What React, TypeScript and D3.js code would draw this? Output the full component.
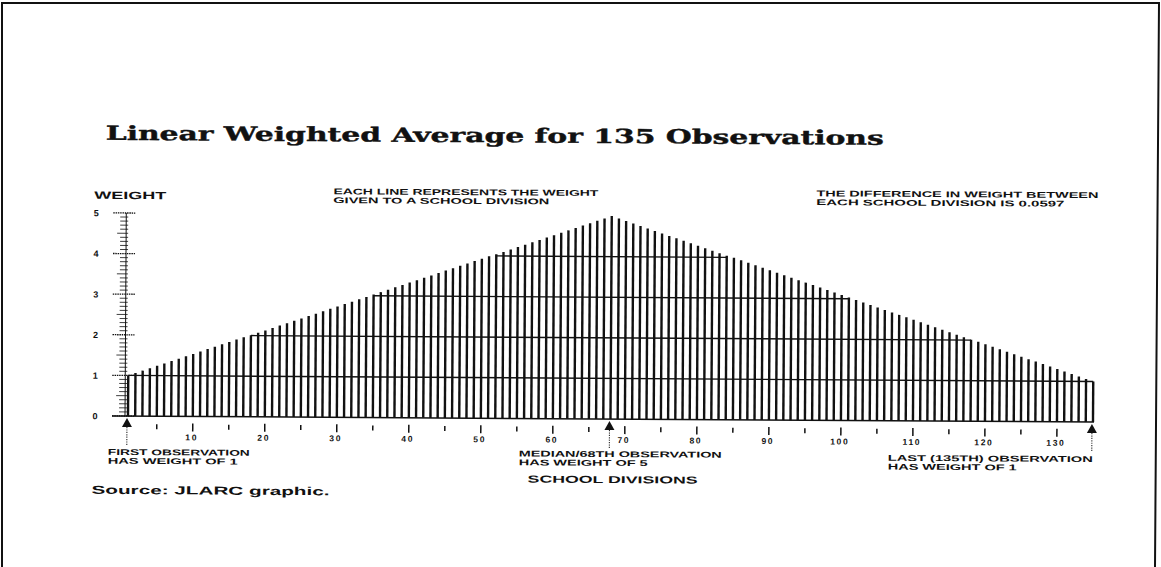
import React from "react";
import * as d3 from "d3";

const TITLE = "Linear Weighted Average for 135 Observations";

// weight given to each of the 135 school divisions (observation 1 .. 135)
const WEIGHTS = [
  1.00, 1.06, 1.12, 1.18, 1.24, 1.30, 1.36, 1.42, 1.48, 1.54,
  1.60, 1.66, 1.72, 1.78, 1.84, 1.90, 1.96, 2.01, 2.07, 2.13,
  2.19, 2.25, 2.31, 2.37, 2.43, 2.49, 2.55, 2.61, 2.67, 2.73,
  2.79, 2.85, 2.91, 2.97, 3.03, 3.09, 3.15, 3.21, 3.27, 3.33,
  3.39, 3.45, 3.51, 3.57, 3.63, 3.69, 3.75, 3.81, 3.87, 3.93,
  3.99, 4.04, 4.10, 4.16, 4.22, 4.28, 4.34, 4.40, 4.46, 4.52,
  4.58, 4.64, 4.70, 4.76, 4.82, 4.88, 4.94, 5.00,
  4.94, 4.88, 4.82, 4.76, 4.70, 4.64, 4.58, 4.52, 4.46, 4.40,
  4.34, 4.28, 4.22, 4.16, 4.10, 4.04, 3.99, 3.93, 3.87, 3.81,
  3.75, 3.69, 3.63, 3.57, 3.51, 3.45, 3.39, 3.33, 3.27, 3.21,
  3.15, 3.09, 3.03, 2.97, 2.91, 2.85, 2.79, 2.73, 2.67, 2.61,
  2.55, 2.49, 2.43, 2.37, 2.31, 2.25, 2.19, 2.13, 2.07, 2.01,
  1.96, 1.90, 1.84, 1.78, 1.72, 1.66, 1.60, 1.54, 1.48, 1.42,
  1.36, 1.30, 1.24, 1.18, 1.12, 1.06, 1.00,
];

const X_MAJOR_TICKS = [10, 20, 30, 40, 50, 60, 70, 80, 90, 100, 110, 120, 130];
const X_MINOR_TICKS = [5, 15, 25, 35, 45, 55, 65, 75, 85, 95, 105, 115, 125];
const Y_TICKS = [0, 1, 2, 3, 4, 5];
const LEVELS = [1, 2, 3, 4];
const MARKED_OBS = [1, 68, 135];

const NOTE_TOP_LEFT = ["EACH LINE REPRESENTS THE WEIGHT", "GIVEN TO A SCHOOL DIVISION"];
const NOTE_TOP_RIGHT = ["THE DIFFERENCE IN WEIGHT BETWEEN", "EACH SCHOOL DIVISION IS 0.0597"];
const NOTE_FIRST = ["FIRST OBSERVATION", "HAS WEIGHT OF 1"];
const NOTE_MEDIAN = ["MEDIAN/68TH OBSERVATION", "HAS WEIGHT OF 5"];
const NOTE_LAST = ["LAST (135TH) OBSERVATION", "HAS WEIGHT OF 1"];

const W = 1161;
const H = 567;
const INK = "#111";
const SMALL = "'Liberation Sans', Arial, sans-serif";

export default function App() {
  const obs = WEIGHTS.map((_, i) => i + 1);
  const x = d3.scaleLinear().domain([1, 135]).range([128, 1093]);
  const y = d3.scaleLinear().domain([0, 5]).range([416, 213]);

  const rulerMinor = d3.range(0, 50).map((k) => k / 10).filter((v) => Math.round(v * 10) % 10 !== 0);

  const levelSpans = LEVELS.map((lv) => {
    const first = WEIGHTS.findIndex((w) => w >= lv);
    let last = -1;
    WEIGHTS.forEach((w, i) => { if (w >= lv) last = i; });
    return { lv, x1: x(obs[first]), x2: x(obs[last]) };
  });

  const smallText = (lines: string[], x0: number, y0: number, widths: number[], size = 8.4) =>
    lines.map((t, i) => (
      <text key={t} x={x0} y={y0 + i * 8.8} fontFamily={SMALL} fontSize={size} fontWeight="bold"
        textLength={widths[i]} lengthAdjust="spacingAndGlyphs" fill={INK}>{t}</text>
    ));

  return (
    <svg width={W} height={H} style={{ position: "absolute", left: 0, top: 0, background: "#fff" }}>
      <rect width={W} height={H} fill="#fff" />
      {/* page frame */}
      <path d={`M2,${H} L2,3 L1159,3 L1155,${H}`} fill="none" stroke={INK} strokeWidth={2} />

      <g transform="rotate(0.36, 128, 416)">
        <text x={104} y={140} fontFamily="'DejaVu Serif', serif" fontWeight="bold" fontSize={19.5}
          textLength={778} lengthAdjust="spacingAndGlyphs" fill={INK} stroke={INK} strokeWidth={0.4}>{TITLE}</text>

        <text x={93} y={199} fontFamily={SMALL} fontWeight="bold" fontSize={10.5}
          textLength={72} lengthAdjust="spacingAndGlyphs" fill={INK}>WEIGHT</text>

        {smallText(NOTE_TOP_LEFT, 332, 193, [265, 216])}
        {smallText(NOTE_TOP_RIGHT, 815, 192, [282, 248])}

        {/* y ruler */}
        <line x1={125} x2={125} y1={y(0)} y2={y(5)} stroke={INK} strokeWidth={1} />
        {rulerMinor.map((v) => (
          <line key={v} x1={Math.abs(v % 1 - 0.5) < 0.01 ? 116 : 119} x2={127} y1={y(v)} y2={y(v)}
            stroke={INK} strokeWidth={0.8} />
        ))}
        {Y_TICKS.map((v) => (
          <g key={v}>
            <line x1={112} x2={134} y1={y(v)} y2={y(v)} stroke={INK} strokeWidth={1.3} strokeDasharray="1.5 0.8" />
            <text x={95} y={y(v) + 3.5} textAnchor="middle" fontFamily={SMALL} fontWeight="bold" fontSize={9} fill={INK}>{v}</text>
          </g>
        ))}

        {/* baseline */}
        <line x1={112} x2={x(135) + 1} y1={y(0)} y2={y(0)} stroke={INK} strokeWidth={1.5} />

        {/* weight lines */}
        {WEIGHTS.map((w, i) => (
          <line key={i} x1={x(obs[i])} x2={x(obs[i])} y1={y(0)} y2={y(w)} stroke={INK} strokeWidth={2.4} />
        ))}

        {/* level outlines */}
        {levelSpans.map((s) => (
          <line key={s.lv} x1={s.x1} x2={s.x2} y1={y(s.lv)} y2={y(s.lv)} stroke={INK} strokeWidth={1.4} />
        ))}

        {/* x ticks */}
        {X_MINOR_TICKS.map((v) => (
          <line key={v} x1={x(v)} x2={x(v)} y1={424} y2={429} stroke={INK} strokeWidth={1.5} />
        ))}
        {X_MAJOR_TICKS.map((v) => (
          <g key={v}>
            <line x1={x(v)} x2={x(v)} y1={423} y2={431} stroke={INK} strokeWidth={1.5} />
            <text x={x(v) - 1} y={440} textAnchor="middle" fontFamily={SMALL} fontWeight="bold" fontSize={8.5}
              letterSpacing={1.6} fill={INK}>{v}</text>
          </g>
        ))}

        {/* markers */}
        {MARKED_OBS.map((o) => {
          const cx = x(o) - 1;
          return (
            <g key={o}>
              <path d={`M${cx},${418} L${cx - 5},${427} L${cx + 5},${427} Z`} fill={INK} />
              <line x1={cx} x2={cx} y1={427} y2={445} stroke={INK} strokeWidth={1} strokeDasharray="1.2 1.2" />
            </g>
          );
        })}

        {smallText(NOTE_FIRST, 108, 455, [142, 130])}
        {smallText(NOTE_MEDIAN, 519, 454, [203, 129])}
        {smallText(NOTE_LAST, 888, 456, [205, 129])}

        <text x={528} y={480} fontFamily={SMALL} fontWeight="bold" fontSize={10}
          textLength={170} lengthAdjust="spacingAndGlyphs" fill={INK}>SCHOOL DIVISIONS</text>

        <text x={92} y={494} fontFamily={SMALL} fontWeight="bold" fontSize={11.5}
          textLength={238} lengthAdjust="spacingAndGlyphs" fill={INK}>Source: JLARC graphic.</text>
      </g>
    </svg>
  );
}
